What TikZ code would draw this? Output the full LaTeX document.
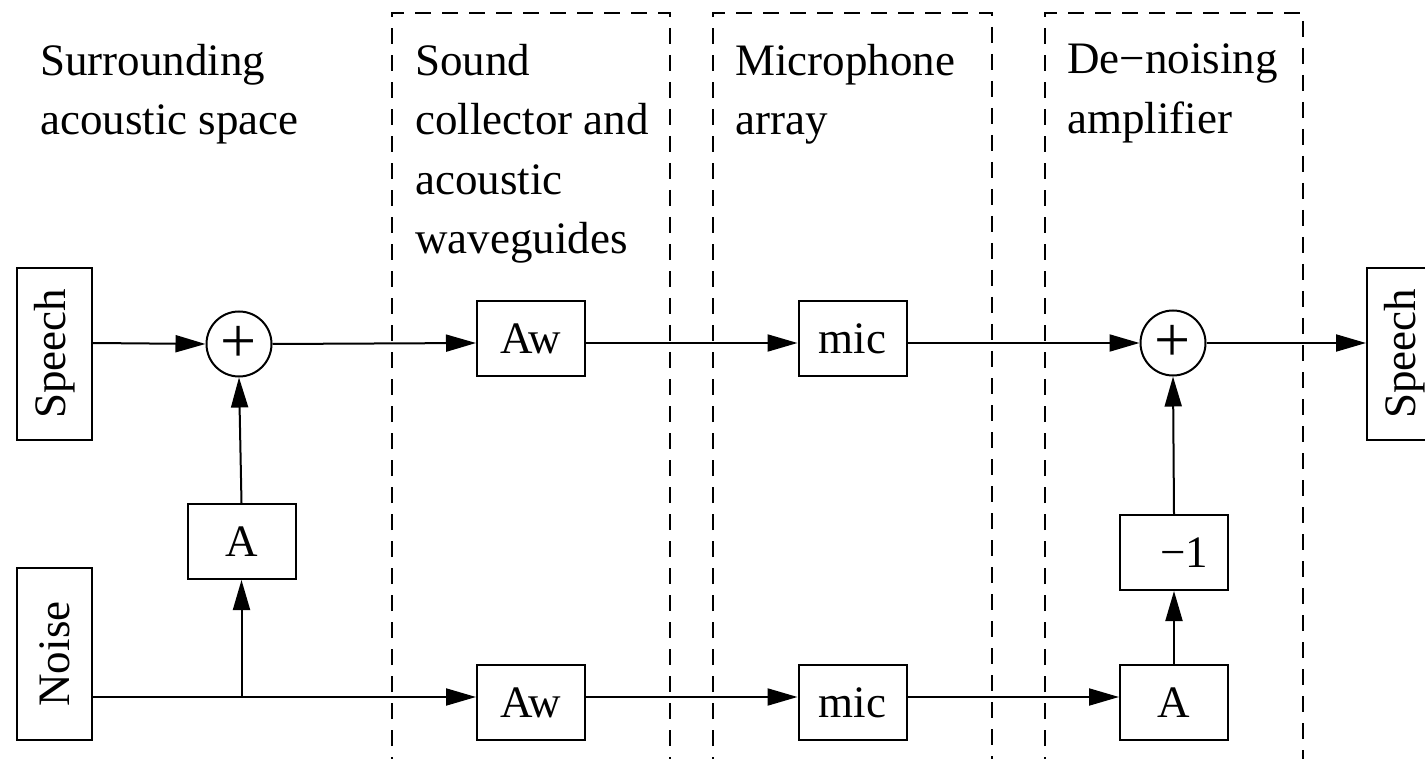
\documentclass[tikz,border=0pt]{standalone}
\usepackage{fontspec}
\usepackage{graphicx}
\setmainfont{Liberation Serif}
\usetikzlibrary{arrows.meta}

\tikzset{
  big/.style={font=\fontsize{45}{59.5}\selectfont},
  wire/.style={line width=2pt},
  arr/.style={wire, -{Triangle[length=30pt,width=17pt]}},
  blk/.style={draw, line width=2pt, big, inner sep=0pt,
              minimum width=108pt, minimum height=75pt},
  srcbox/.style={draw, line width=2pt, big, inner sep=0pt,
                 minimum width=75pt, minimum height=172pt},
  sum/.style={draw, circle, line width=2pt, inner sep=0pt, minimum size=65pt,
              font=\fontsize{64}{64}\selectfont},
  stage/.style={line width=1.6pt, dash pattern=on 16pt off 11pt},
  caption/.style={big, anchor=north west, align=left, inner sep=0pt},
}

\begin{document}
\begin{tikzpicture}[x=1pt, y=-1pt]
  \useasboundingbox (0,0) rectangle (1425,759);

  % stage frames (open at the bottom)
  \draw[stage] (392,800) -- (392,13) -- (670,13) -- (670,800);
  \draw[stage] (713,800) -- (713,13) -- (992,13) -- (992,800);
  \draw[stage] (1045,800) -- (1045,13) -- (1303,13) -- (1303,800);

  % stage captions
  \node[caption] (capA) at (40,44)   {Surrounding\\acoustic space};
  \node[caption] (capB) at (415,44)  {Sound\\collector and\\acoustic\\waveguides};
  \node[caption] (capC) at (735,44)  {Microphone\\array};
  \node[caption] (capD) at (1067,44) {De−noising\\amplifier};

  % signal rows
  \coordinate (r1) at (0,343);
  \coordinate (r2) at (0,697);

  % sources and sink
  \node[srcbox] (speechL) at (54.5,354)  {\rotatebox{90}{Speech}};
  \node[srcbox] (noise)   at (54.5,654)  {\rotatebox{90}{Noise}};
  \node[srcbox] (speechR) at (1404.5,354) {\rotatebox{90}{Speech}};

  % blocks
  \node[sum] (sumL) at (239,344) {+};
  \node[blk] (aL)   at (241.5,541.5) {A};
  \node[blk] (aw1)  at (531,338.5) {Aw};
  \node[blk] (mic1) at (852.5,338.5) {mic};
  \node[blk] (aw2)  at (531,702.5) {Aw};
  \node[blk] (mic2) at (852.5,702.5) {mic};
  \node[sum] (sumR) at (1173,343) {+};
  \node[blk] (m1)   at (1174,552.5) {\hspace{20pt}−1};
  \node[blk] (aR)   at (1174,702.5) {A};

  \coordinate (j) at (aL |- r2);

  % speech path
  \draw[arr] (speechL.east |- r1) -- (sumL.west);
  \draw[arr] (sumL.east) -- (aw1.west |- r1);
  \draw[arr] (aw1.east |- r1) -- (mic1.west |- r1);
  \draw[arr] (mic1.east |- r1) -- (sumR.west);
  \draw[arr] (sumR.east) -- (speechR.west |- r1);

  % noise path
  \draw[wire] (noise.east |- r2) -- (j);
  \draw[arr] (j) -- (aw2.west |- r2);
  \draw[arr] (j) -- (aL.south);
  \draw[arr] (aL.north) -- (sumL.south);
  \draw[arr] (aw2.east |- r2) -- (mic2.west |- r2);
  \draw[arr] (mic2.east |- r2) -- (aR.west |- r2);
  \draw[arr] (aR.north) -- (m1.south);
  \draw[arr] (m1.north) -- (sumR.south);
\end{tikzpicture}
\end{document}
